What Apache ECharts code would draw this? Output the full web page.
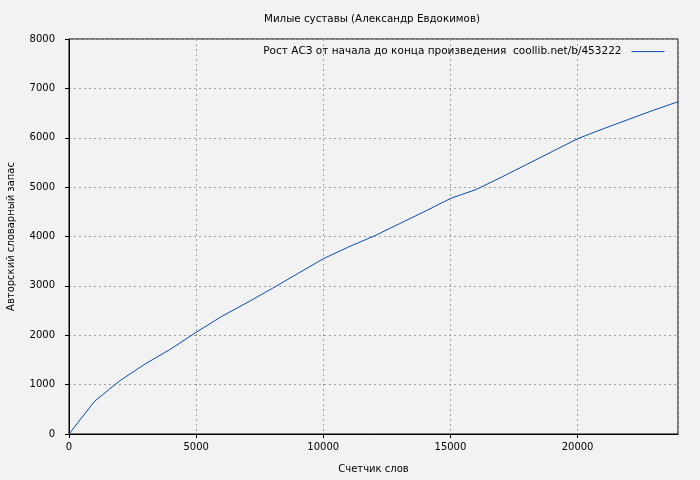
<!DOCTYPE html>
<html>
<head>
<meta charset="utf-8">
<script src="https://cdn.jsdelivr.net/npm/echarts@6/dist/echarts.min.js"></script>
<style>
html,body{margin:0;padding:0;background:#f2f2f2;}
#c{width:700px;height:480px;}
</style>
</head>
<body>
<div id="c"></div>
<script>
const titleText = 'Милые суставы (Александр Евдокимов)';
const xName = 'Счетчик слов';
const yName = 'Авторский словарный запас';
const seriesName = 'Рост АСЗ от начала до конца произведения  coollib.net/b/453222';
const words = [0, 1000, 2000, 3000, 4000, 5000, 6000, 7000, 8000, 9000, 10000, 11000, 12000, 13000, 14000, 15000, 16000, 17000, 18000, 19000, 20000, 21000, 22000, 23000, 23950];
const vocab = [0, 660, 1080, 1420, 1720, 2060, 2380, 2660, 2950, 3250, 3550, 3790, 4010, 4260, 4510, 4770, 4950, 5200, 5460, 5720, 5980, 6180, 6370, 6560, 6730];
const xTicks = [0, 5000, 10000, 15000, 20000];
const yTicks = [0, 1000, 2000, 3000, 4000, 5000, 6000, 7000, 8000];

const font = 'DejaVu Sans';
const lineColor = '#0a4ab0';
const chart = echarts.init(document.getElementById('c'), null, {renderer: 'canvas'});
const gridLine = {show: true, lineStyle: {color: '#a0a0a0', type: [2, 3], width: 1}};
chart.setOption({
  backgroundColor: '#f2f2f2',
  animation: false,
  title: {
    text: titleText, left: 367, top: 9, textAlign: 'center',
    textStyle: {fontFamily: font, fontSize: 10.3, fontWeight: 'normal', color: '#000'}
  },
  legend: {
    right: 30, top: 41, align: 'right', itemWidth: 33, itemHeight: 14, itemGap: 0,
    textStyle: {fontFamily: font, fontSize: 10.5, color: '#000', padding: [0, 5, 0, 0]},
    itemStyle: {opacity: 0},
    lineStyle: {color: lineColor, width: 1},
    data: [{name: seriesName}]
  },
  grid: {left: 69, right: 22, top: 39, bottom: 46, show: true, borderColor: '#000', borderWidth: 1, backgroundColor: '#f2f2f2',
    containLabel: false, outerBoundsMode: 'none'},
  xAxis: {
    type: 'value', min: 0, max: words[words.length - 1], interval: 5000,
    name: xName, nameLocation: 'middle', nameGap: 30,
    nameTextStyle: {fontFamily: font, fontSize: 10, color: '#000'},
    axisLine: {show: true, onZero: false, lineStyle: {color: '#000', width: 1}},
    axisTick: {show: true, inside: false, length: 4, lineStyle: {color: '#000'}},
    axisLabel: {fontFamily: font, fontSize: 10, color: '#000', margin: 8, showMaxLabel: false,
      formatter: v => xTicks.includes(v) ? String(v) : ''},
    splitLine: gridLine
  },
  yAxis: {
    type: 'value', min: 0, max: 8000, interval: 1000,
    name: yName, nameLocation: 'middle', nameGap: 53, nameRotate: 90,
    nameTextStyle: {fontFamily: font, fontSize: 10, color: '#000'},
    axisLine: {show: true, onZero: false, lineStyle: {color: '#000', width: 1}},
    axisTick: {show: true, inside: false, length: 4, lineStyle: {color: '#000'}},
    axisLabel: {fontFamily: font, fontSize: 10, color: '#000', margin: 14,
      formatter: v => yTicks.includes(v) ? String(v) : ''},
    splitLine: gridLine
  },
  series: [{
    name: seriesName, type: 'line', showSymbol: false, symbol: 'none',
    data: words.map((w, i) => [w, vocab[i]]),
    lineStyle: {color: lineColor, width: 1},
    itemStyle: {color: lineColor}
  }]
});
</script>
</body>
</html>
